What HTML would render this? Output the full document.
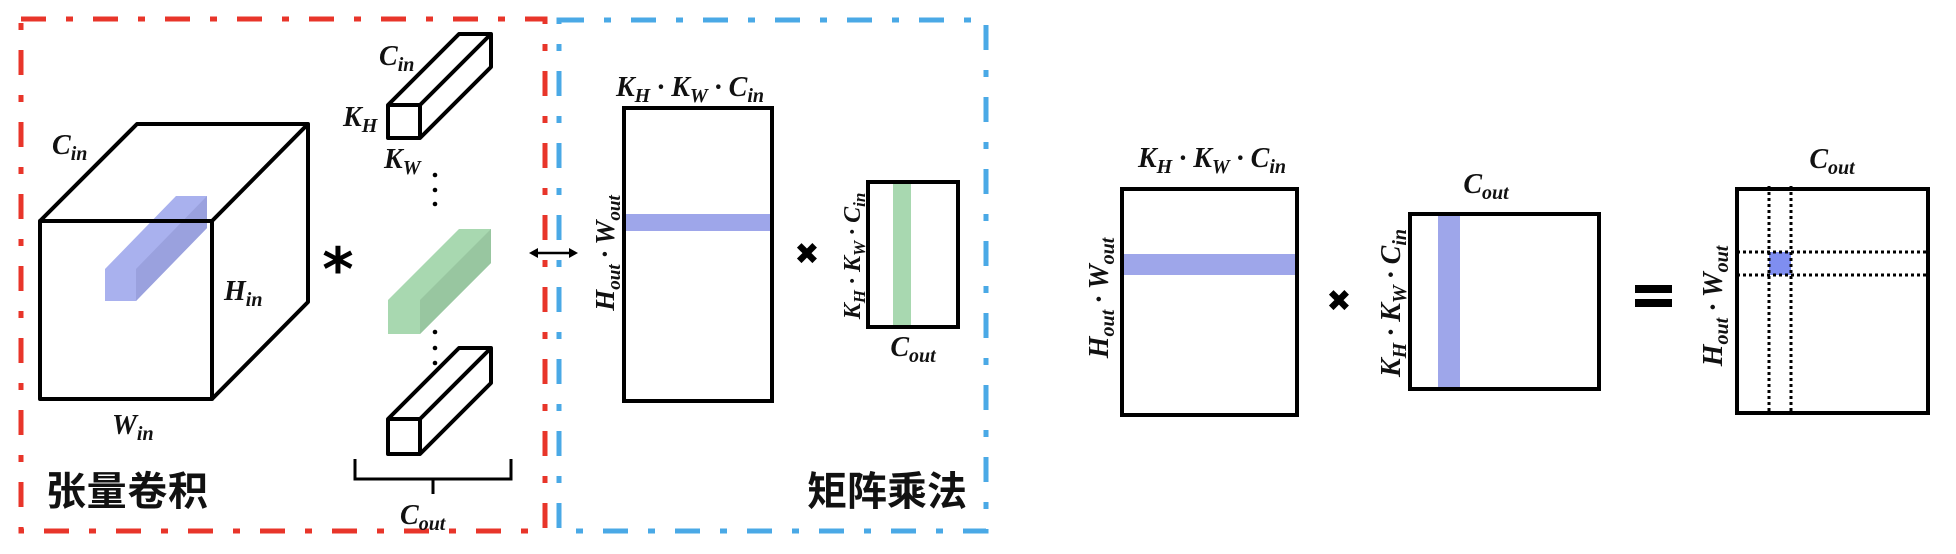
<!DOCTYPE html>
<html><head><meta charset="utf-8"><style>
html,body{margin:0;padding:0;background:#fff;}
svg{display:block;}
.m{font-family:"Liberation Serif",serif;font-style:italic;font-weight:bold;fill:#111;}
.cn{font-family:"Liberation Sans","Noto Sans CJK SC",sans-serif;font-weight:bold;fill:#111;}
</style></head><body>
<svg width="1956" height="554" viewBox="0 0 1956 554" xmlns="http://www.w3.org/2000/svg">
<rect x="21" y="19" width="524" height="512" fill="none" stroke="#e8352a" stroke-width="5" stroke-dasharray="25 20 7 20"/>
<rect x="559" y="20" width="427" height="511" fill="none" stroke="#4aa9e6" stroke-width="5" stroke-dasharray="25 20 7 20"/>

<g stroke="#000" stroke-width="4" fill="none" stroke-linejoin="round">
<polygon points="105,269 176,196 207,196 207,228 136,301 105,301" fill="#a9b1ee" stroke="none"/>
<polygon points="136,269 207,196 207,228 136,301" fill="#9aa1de" stroke="none"/>
<polygon points="105,269 136,269 136,301 105,301" fill="#a9b1ee" stroke="none"/>
<rect x="40" y="221" width="172" height="178"/>
<polyline points="40,221 137,124 308,124 308,302 212,399"/>
<line x1="212" y1="221" x2="308" y2="124"/>
</g>
<text class="m" x="52" y="154" font-size="28">C<tspan font-size="20" dy="6">in</tspan></text>
<text class="m" x="224" y="300" font-size="28">H<tspan font-size="20" dy="6">in</tspan></text>
<text class="m" x="112" y="434" font-size="28">W<tspan font-size="20" dy="6">in</tspan></text>
<text x="338" y="290" font-family="DejaVu Sans,sans-serif" font-size="60" font-weight="bold" text-anchor="middle">*</text>

<g stroke="#000" stroke-width="4" fill="#fff" stroke-linejoin="round">
<polygon points="388,105 459,34 491,34 491,67 420,138 388,138"/>
<line x1="420" y1="105" x2="491" y2="34"/><line x1="388" y1="105" x2="420" y2="105"/><line x1="420" y1="105" x2="420" y2="138"/>
</g>
<g>
<polygon points="388,300 459,229 491,229 491,263 420,334 388,334" fill="#a8d8b0"/>
<polygon points="420,300 491,229 491,263 420,334" fill="#98c6a0"/>
</g>
<g stroke="#000" stroke-width="4" fill="#fff" stroke-linejoin="round">
<polygon points="388,419 459,348 491,348 491,383 420,454 388,454"/>
<line x1="420" y1="419" x2="491" y2="348"/><line x1="388" y1="419" x2="420" y2="419"/><line x1="420" y1="419" x2="420" y2="454"/>
</g>
<g fill="#000">
<circle cx="435" cy="175" r="2.3"/><circle cx="435" cy="190" r="2.3"/><circle cx="435" cy="204" r="2.3"/>
<circle cx="435" cy="332" r="2.3"/><circle cx="435" cy="348" r="2.3"/><circle cx="435" cy="363" r="2.3"/>
</g>
<text class="m" x="379" y="65" font-size="28">C<tspan font-size="20" dy="6">in</tspan></text>
<text class="m" x="343" y="126" font-size="28">K<tspan font-size="20" dy="6">H</tspan></text>
<text class="m" x="384" y="168" font-size="28">K<tspan font-size="20" dy="6">W</tspan></text>
<path d="M355,459 V479 H511 V459 M433,479 V494" fill="none" stroke="#000" stroke-width="3"/>
<text class="m" x="400" y="524" font-size="28">C<tspan font-size="20" dy="6">out</tspan></text>
<text class="cn" x="46" y="505" font-size="40" textLength="162">张量卷积</text>

<g stroke="#000" stroke-width="2.5" fill="#000">
<line x1="532" y1="253" x2="575" y2="253"/>
<polygon points="529,253 538,248 538,258" stroke="none"/><polygon points="578,253 569,248 569,258" stroke="none"/>
</g>

<g>
<rect x="624" y="214" width="148" height="17" fill="#9ea6ea"/>
<rect x="624" y="108" width="148" height="293" fill="none" stroke="#000" stroke-width="4"/>
</g>
<text class="m" x="690" y="96" font-size="28" text-anchor="middle">K<tspan font-size="20" dy="6">H</tspan><tspan dy="-6"> · K</tspan><tspan font-size="20" dy="6">W</tspan><tspan dy="-6"> · C</tspan><tspan font-size="20" dy="6">in</tspan></text>
<text class="m" transform="translate(614,253) rotate(-90)" font-size="27" text-anchor="middle">H<tspan font-size="19" dy="6">out</tspan><tspan dy="-6"> · W</tspan><tspan font-size="19" dy="6">out</tspan></text>
<text x="807" y="264" font-family="DejaVu Sans,sans-serif" font-size="30" font-weight="bold" text-anchor="middle">✖</text>
<g>
<rect x="893" y="182" width="18" height="145" fill="#a8d8b0"/>
<rect x="868" y="182" width="90" height="145" fill="none" stroke="#000" stroke-width="4"/>
</g>
<text class="m" transform="translate(860,256) rotate(-90)" font-size="24" text-anchor="middle">K<tspan font-size="17" dy="5">H</tspan><tspan dy="-5"> · K</tspan><tspan font-size="17" dy="5">W</tspan><tspan dy="-5"> · C</tspan><tspan font-size="17" dy="5">in</tspan></text>
<text class="m" x="913" y="356" font-size="28" text-anchor="middle">C<tspan font-size="20" dy="6">out</tspan></text>
<text class="cn" x="807" y="505" font-size="40" textLength="160">矩阵乘法</text>

<g>
<rect x="1122" y="254" width="175" height="21" fill="#9ea6ea"/>
<rect x="1122" y="189" width="175" height="226" fill="none" stroke="#000" stroke-width="4"/>
</g>
<text class="m" x="1212" y="167" font-size="28" text-anchor="middle">K<tspan font-size="20" dy="6">H</tspan><tspan dy="-6"> · K</tspan><tspan font-size="20" dy="6">W</tspan><tspan dy="-6"> · C</tspan><tspan font-size="20" dy="6">in</tspan></text>
<text class="m" transform="translate(1108,298) rotate(-90)" font-size="28" text-anchor="middle">H<tspan font-size="20" dy="6">out</tspan><tspan dy="-6"> · W</tspan><tspan font-size="20" dy="6">out</tspan></text>
<text x="1339" y="311" font-family="DejaVu Sans,sans-serif" font-size="30" font-weight="bold" text-anchor="middle">✖</text>
<g>
<rect x="1438" y="214" width="22" height="175" fill="#9ea6ea"/>
<rect x="1410" y="214" width="189" height="175" fill="none" stroke="#000" stroke-width="4"/>
</g>
<text class="m" x="1486" y="193" font-size="28" text-anchor="middle">C<tspan font-size="20" dy="6">out</tspan></text>
<text class="m" transform="translate(1400,303) rotate(-90)" font-size="28" text-anchor="middle">K<tspan font-size="20" dy="6">H</tspan><tspan dy="-6"> · K</tspan><tspan font-size="20" dy="6">W</tspan><tspan dy="-6"> · C</tspan><tspan font-size="20" dy="6">in</tspan></text>
<g fill="#000">
<rect x="1635" y="285" width="37" height="8"/><rect x="1635" y="299" width="37" height="8"/>
</g>
<g>
<rect x="1769" y="252" width="22" height="23" fill="#7f8ef0"/>
<rect x="1737" y="189" width="191" height="224" fill="none" stroke="#000" stroke-width="4"/>
<g stroke="#000" stroke-width="3" stroke-dasharray="3 3" fill="none">
<line x1="1769" y1="186" x2="1769" y2="413"/><line x1="1791" y1="186" x2="1791" y2="413"/>
<line x1="1737" y1="252" x2="1928" y2="252"/><line x1="1737" y1="275" x2="1928" y2="275"/>
</g>
</g>
<text class="m" x="1832" y="168" font-size="28" text-anchor="middle">C<tspan font-size="20" dy="6">out</tspan></text>
<text class="m" transform="translate(1722,306) rotate(-90)" font-size="28" text-anchor="middle">H<tspan font-size="20" dy="6">out</tspan><tspan dy="-6"> · W</tspan><tspan font-size="20" dy="6">out</tspan></text>
</svg>
</body></html>
